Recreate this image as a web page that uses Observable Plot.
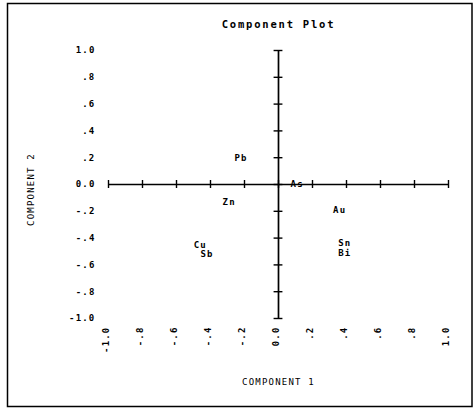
<!DOCTYPE html>
<html>
<head>
<meta charset="utf-8">
<script src="https://cdn.jsdelivr.net/npm/d3@7"></script>
<script src="https://cdn.jsdelivr.net/npm/@observablehq/plot@0.6"></script>
<style>
  html, body { margin: 0; padding: 0; background: #fff; }
  #chart { width: 475px; height: 409px; }
</style>
</head>
<body>
<div id="chart"></div>
<script>
// Element labels and their component loadings
const elements = ["Pb", "As", "Zn", "Au", "Cu", "Sb", "Sn", "Bi"];
const component1 = [-0.22, 0.11, -0.29, 0.36, -0.46, -0.42, 0.39, 0.39];
const component2 = [0.20, 0.00, -0.13, -0.19, -0.455, -0.52, -0.44, -0.515];

// Axis ticks and labels
const tickValues = [-1, -0.8, -0.6, -0.4, -0.2, 0, 0.2, 0.4, 0.6, 0.8, 1];
const xTickLabels = ["-1.0", "-.8", "-.6", "-.4", "-.2", "0.0", ".2", ".4", ".6", ".8", "1.0"];
const yTickLabels = ["-1.0", "-.8", "-.6", "-.4", "-.2", "0.0", ".2", ".4", ".6", ".8", "1.0"];

const title = "Component Plot";
const xLabel = "COMPONENT 1";
const yLabel = "COMPONENT 2";

const points = elements.map((name, i) => ({name, c1: component1[i], c2: component2[i]}));
const xTicks = tickValues.map((v, i) => ({v, label: xTickLabels[i]}));
const yTicks = tickValues.map((v, i) => ({v, label: yTickLabels[i]}));

const font = "'DejaVu Sans Mono', monospace";

const chart = Plot.plot({
  width: 475,
  height: 409,
  marginLeft: 108,
  marginRight: 27,
  marginTop: 50,
  marginBottom: 91,
  style: {fontFamily: font, background: "#fff", color: "#000"},
  x: {domain: [-1, 1], axis: null},
  y: {domain: [-1, 1], axis: null},
  marks: [
    // main axes through the origin
    Plot.ruleY([0], {x1: -1, x2: 1, stroke: "#000", strokeWidth: 1.7}),
    Plot.ruleX([0], {y1: -1, y2: 1, stroke: "#000", strokeWidth: 1.7}),
    // tick marks crossing the axes
    Plot.ruleX(tickValues, {x: d => d, y1: -0.03, y2: 0.03, stroke: "#000", strokeWidth: 1.4}),
    Plot.ruleY(tickValues, {y: d => d, x1: -0.026, x2: 0.026, stroke: "#000", strokeWidth: 1.4}),
    // y tick labels
    Plot.text(yTicks, {
      y: "v", text: "label", frameAnchor: "left", textAnchor: "end", dx: -13,
      fontSize: 9, fontWeight: "bold", fill: "#000"
    }),
    // x tick labels (rotated)
    Plot.text(xTicks, {
      x: "v", text: "label", frameAnchor: "bottom", rotate: -90, textAnchor: "end", dy: 8,
      fontSize: 9, fontWeight: "bold", fill: "#000"
    }),
    // element labels
    Plot.text(points, {
      x: "c1", y: "c2", text: "name",
      fontSize: 9, fontWeight: "bold", fill: "#000"
    }),
    // title and axis titles
    Plot.text([title], {
      frameAnchor: "top", textAnchor: "middle", dy: -30, text: d => d,
      fontSize: 10.5, fill: "#000", fontWeight: "bold", className: "title"
    }),
    Plot.text([xLabel], {
      frameAnchor: "bottom", textAnchor: "middle", dy: 66, text: d => d,
      fontSize: 9, fill: "#000"
    }),
    Plot.text([yLabel], {
      frameAnchor: "left", textAnchor: "middle", dx: -77, dy: 5, rotate: -90, text: d => d,
      fontSize: 9, fill: "#000"
    })
  ]
});

document.getElementById("chart").appendChild(chart);

const svg = d3.select(chart);
// letter spacing for the plotter-like lettering
svg.selectAll("text").style("letter-spacing", "1.2px");
svg.selectAll("g.title text").style("letter-spacing", "1.8px");
// outer frame around the whole figure
svg.append("rect")
  .attr("x", 7.5).attr("y", 3.5)
  .attr("width", 464.5).attr("height", 403)
  .attr("fill", "none").attr("stroke", "#000").attr("stroke-width", 1.5);
</script>
</body>
</html>
